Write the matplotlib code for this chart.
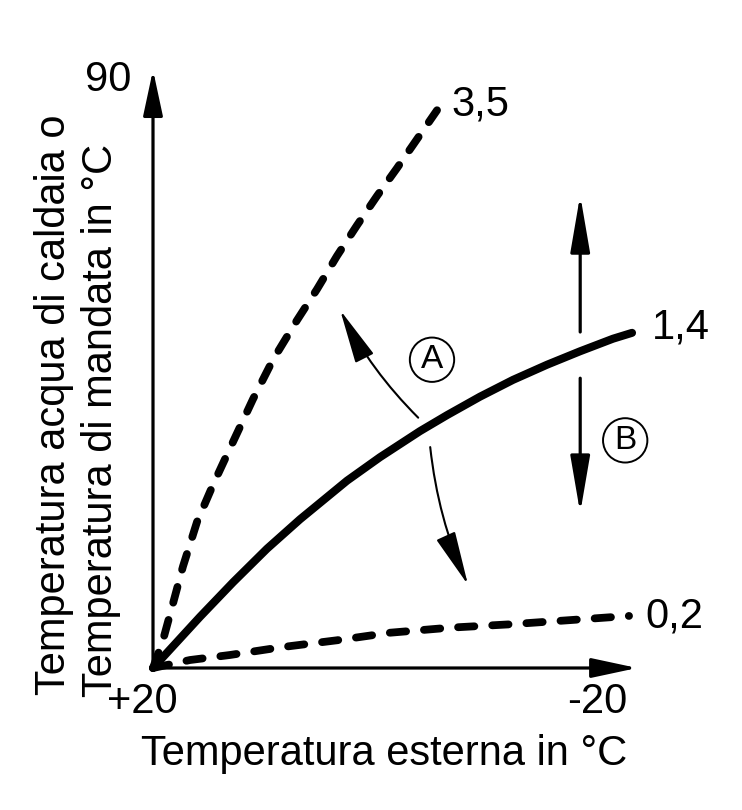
import matplotlib
matplotlib.use("Agg")
import matplotlib.pyplot as plt
from matplotlib.patches import FancyArrowPatch

plt.rcParams['font.family'] = ['Liberation Sans', 'DejaVu Sans']

# heating curves: outdoor temp -> flow temp
out_35 = [20, 19.17, 18.33, 17.5, 16.33, 15.0, 13.83, 11.67, 10.0, 8.0, 6.33,
          4.67, 3.0, 1.33, -0.33, -3.67]
flow_35 = [20, 23.3, 27.7, 32.1, 37.4, 41.8, 45.4, 52.0, 56.7, 61.4, 65.1,
           69.05, 72.7, 76.2, 79.5, 86.4]

out_14 = [20, 16.08, 13.33, 10.5, 7.75, 3.83, 1.08, -2.25, -4.5, -7.25, -10.0,
          -12.83, -15.58, -18.33, -19.92]
flow_14 = [20, 26.1, 30.2, 34.2, 37.7, 42.3, 45.1, 48.2, 50.1, 52.3, 54.3,
           56.1, 57.7, 59.2, 59.9]

out_02 = [20, 16.92, 13.58, 9.17, 4.67, 0.25, -4.75, -9.75, -14.75, -19.67]
flow_02 = [20, 20.95, 21.55, 22.5, 23.3, 24.2, 24.8, 25.2, 25.7, 26.2]

curve_labels = ["3,5", "1,4", "0,2"]
tick_labels = ["90", "+20", "-20"]
xlabel = "Temperatura esterna in °C"
ylabel_1 = "Temperatura acqua di caldaia o"
ylabel_2 = "Temperatura di mandata in °C"

W, H = 742, 810
fig = plt.figure(figsize=(W / 100, H / 100), dpi=100)
ax = fig.add_axes([153 / W, (H - 668) / H, (633 - 153) / W, (668 - 80) / H])
ax.set_xlim(20, -20)
ax.set_ylim(20, 90)
ax.axis('off')

fs = 30

# axes drawn as arrows
axis_kw = dict(arrowstyle='-|>,head_length=1.4,head_width=0.3', mutation_scale=20,
               lw=2.3, color='black', clip_on=False, shrinkA=0, shrinkB=0)
ax.add_patch(FancyArrowPatch((20, 20), (20, 91.2), **axis_kw))
ax.add_patch(FancyArrowPatch((20, 20), (-20.35, 20), **axis_kw))

# curves
dash = (0, (2.1, 2.3))
ax.plot(out_35, flow_35, color='black', lw=5.6, linestyle=dash,
        dash_capstyle='round', clip_on=False)
ax.plot(out_14, flow_14, color='black', lw=5.8, solid_capstyle='round',
        solid_joinstyle='round', clip_on=False)
ax.plot(out_02, flow_02, color='black', lw=5.6, linestyle=dash,
        dash_capstyle='round', clip_on=False)

ax.text(-4.9, 87.1, curve_labels[0], fontsize=fs, ha='left', va='center', clip_on=False)
ax.text(-21.6, 60.5, curve_labels[1], fontsize=fs, ha='left', va='center', clip_on=False)
ax.text(-21.0, 26.1, curve_labels[2], fontsize=fs, ha='left', va='center', clip_on=False)

# tick labels
ax.text(23.75, 90, tick_labels[0], fontsize=fs, ha='center', va='center', clip_on=False)
ax.text(20.9, 15.95, tick_labels[1], fontsize=fs, ha='center', va='center', clip_on=False)
ax.text(-17.0, 15.95, tick_labels[2], fontsize=fs, ha='center', va='center', clip_on=False)

# axis titles
ax.text(0.7, 9.8, xlabel, fontsize=fs, ha='center', va='center', clip_on=False)
ax.text(27.33, 16.8, ylabel_1, fontsize=fs, ha='left', va='baseline', rotation=90,
        rotation_mode='anchor', clip_on=False)
ax.text(23.42, 16.55, ylabel_2, fontsize=fs, ha='left', va='baseline', rotation=90,
        rotation_mode='anchor', clip_on=False)

# arrow A (curved, split by the 1,4 curve)
a_kw = dict(arrowstyle='-|>,head_length=1.7,head_width=0.32', mutation_scale=20,
            lw=1.5, color='black', clip_on=False, shrinkA=0, shrinkB=0)
ax.add_patch(FancyArrowPatch((-2.1, 49.8), (4.4, 62.6),
                             connectionstyle='arc3,rad=-0.08', **a_kw))
ax.add_patch(FancyArrowPatch((-3.1, 46.3), (-6.25, 29.9),
                             connectionstyle='arc3,rad=0.08', **a_kw))

# arrow B (vertical, split by the 1,4 curve)
b_kw = dict(arrowstyle='-|>,head_length=1.75,head_width=0.3', mutation_scale=20,
            lw=2.3, color='black', clip_on=False, shrinkA=0, shrinkB=0)
ax.add_patch(FancyArrowPatch((-15.6, 60.0), (-15.6, 76.3), **b_kw))
ax.add_patch(FancyArrowPatch((-15.6, 54.5), (-15.6, 38.45), **b_kw))

circ = dict(boxstyle='circle,pad=0.2', fc='white', ec='black', lw=1.4)
ax.text(-3.25, 56.7, "A", fontsize=24, ha='center', va='center', bbox=circ, clip_on=False)
ax.text(-19.35, 47.1, "B", fontsize=24, ha='center', va='center', bbox=circ, clip_on=False)

fig.savefig('out.png', dpi=100, facecolor='white')
